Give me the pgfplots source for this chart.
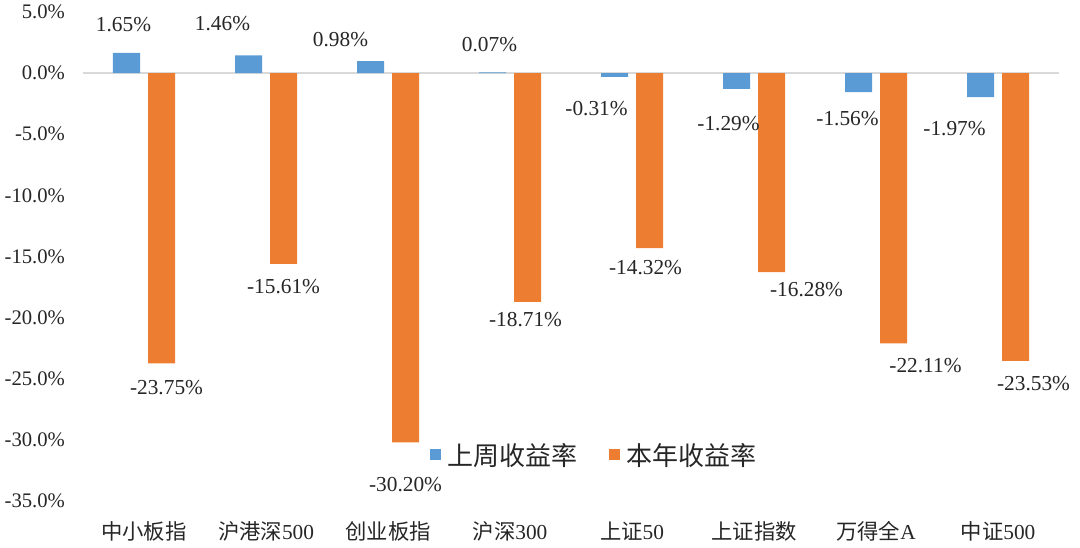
\documentclass[border=0pt]{standalone}
\usepackage{pgfplots}
\pgfplotsset{compat=1.18}
\usepackage{pgfplotstable}
\usepackage{fontspec}
\setmainfont{Liberation Serif}
\newfontfamily\cjk{Noto Sans CJK SC}
\definecolor{wkblue}{HTML}{5B9BD5}
\definecolor{yrorange}{HTML}{ED7D31}

% week / year returns, label offsets in pt
\pgfplotstableread{
x week bdx   bdy    year   odx   ody
0 1.65  -2.25  21    -23.75  3.75 -18
1 1.46  -19.5  24    -15.61  0    -17.25
2 0.98  -22.5  16.5  -30.20  0    -31.5
3 0.07  -2.25  21    -18.71 -1.5  -13.5
4 -0.31 -13.5 -24    -14.32 -3    -14.25
5 -1.29 -6    -26.25 -16.28 26.25 -12.75
6 -1.56 -8.25 -19.5  -22.11 24    -16.5
7 -1.97 -19.5 -23.25 -23.53 13.5  -17.25
}\returns

\begin{document}
\begin{tikzpicture}
\begin{axis}[
    scale only axis,
    width=732pt, height=366.75pt,
    ybar=6pt, bar width=20.25pt,
    xmin=-0.5, xmax=7.5,
    ymin=-35, ymax=5,
    xtick={0,...,7},
    xticklabels={{\cjk 中小板指},{\cjk 沪港深}500,{\cjk 创业板指},{\cjk 沪深}300,{\cjk 上证}50,{\cjk 上证指数},{\cjk 万得全}A,{\cjk 中证}500},
    ytick={-35,-30,-25,-20,-15,-10,-5,0,5},
    yticklabel={\pgfmathprintnumber[fixed,fixed zerofill,precision=1]{\tick}\%},
    /pgf/number format/assume math mode=true,
    axis line style={draw=none},
    major tick length=0pt,
    extra y ticks={0}, extra y tick labels={},
    extra y tick style={grid=major, major grid style={draw=black!15, line width=1pt}},
    yticklabel style={font=\fontsize{15.5}{15.5}\selectfont, text=black!85, xshift=-10pt},
    xticklabel style={font=\fontsize{16}{16}\selectfont, text=black!85, yshift=-12pt},
    legend style={draw=none, fill=none, at={(0.524,0.094)}, anchor=center,
        legend columns=2, font=\cjk\fontsize{19.5}{19.5}\selectfont, text=black!85,
        /tikz/every even column/.append style={column sep=22pt}},
    legend image code/.code={\fill[#1] (0pt,-4pt) rectangle (8.5pt,4.5pt); \path (11pt,0pt);},
]
\addplot+[fill=wkblue, draw=none,
    visualization depends on={\thisrow{bdx} \as \dx},
    visualization depends on={\thisrow{bdy} \as \dy},
    nodes near coords={\pgfmathprintnumber[fixed,fixed zerofill,precision=2]{\pgfplotspointmeta}\%},
    every node near coord/.append style={anchor=center, xshift=\dx pt, yshift=\dy pt,
        font=\fontsize{16}{16}\selectfont, text=black!85}]
    table[x=x, y=week] {\returns};
\addplot+[fill=yrorange, draw=none,
    visualization depends on={\thisrow{odx} \as \dx},
    visualization depends on={\thisrow{ody} \as \dy},
    nodes near coords={\pgfmathprintnumber[fixed,fixed zerofill,precision=2]{\pgfplotspointmeta}\%},
    every node near coord/.append style={anchor=center, xshift=\dx pt, yshift=\dy pt,
        font=\fontsize{16}{16}\selectfont, text=black!85}]
    table[x=x, y=year] {\returns};
\legend{上周收益率,本年收益率}
\end{axis}
\pgfresetboundingbox
\path[use as bounding box] ([shift={(-62.25pt,-35.25pt)}]current axis.south west) rectangle ++(810pt,411pt);
\end{tikzpicture}
\end{document}
